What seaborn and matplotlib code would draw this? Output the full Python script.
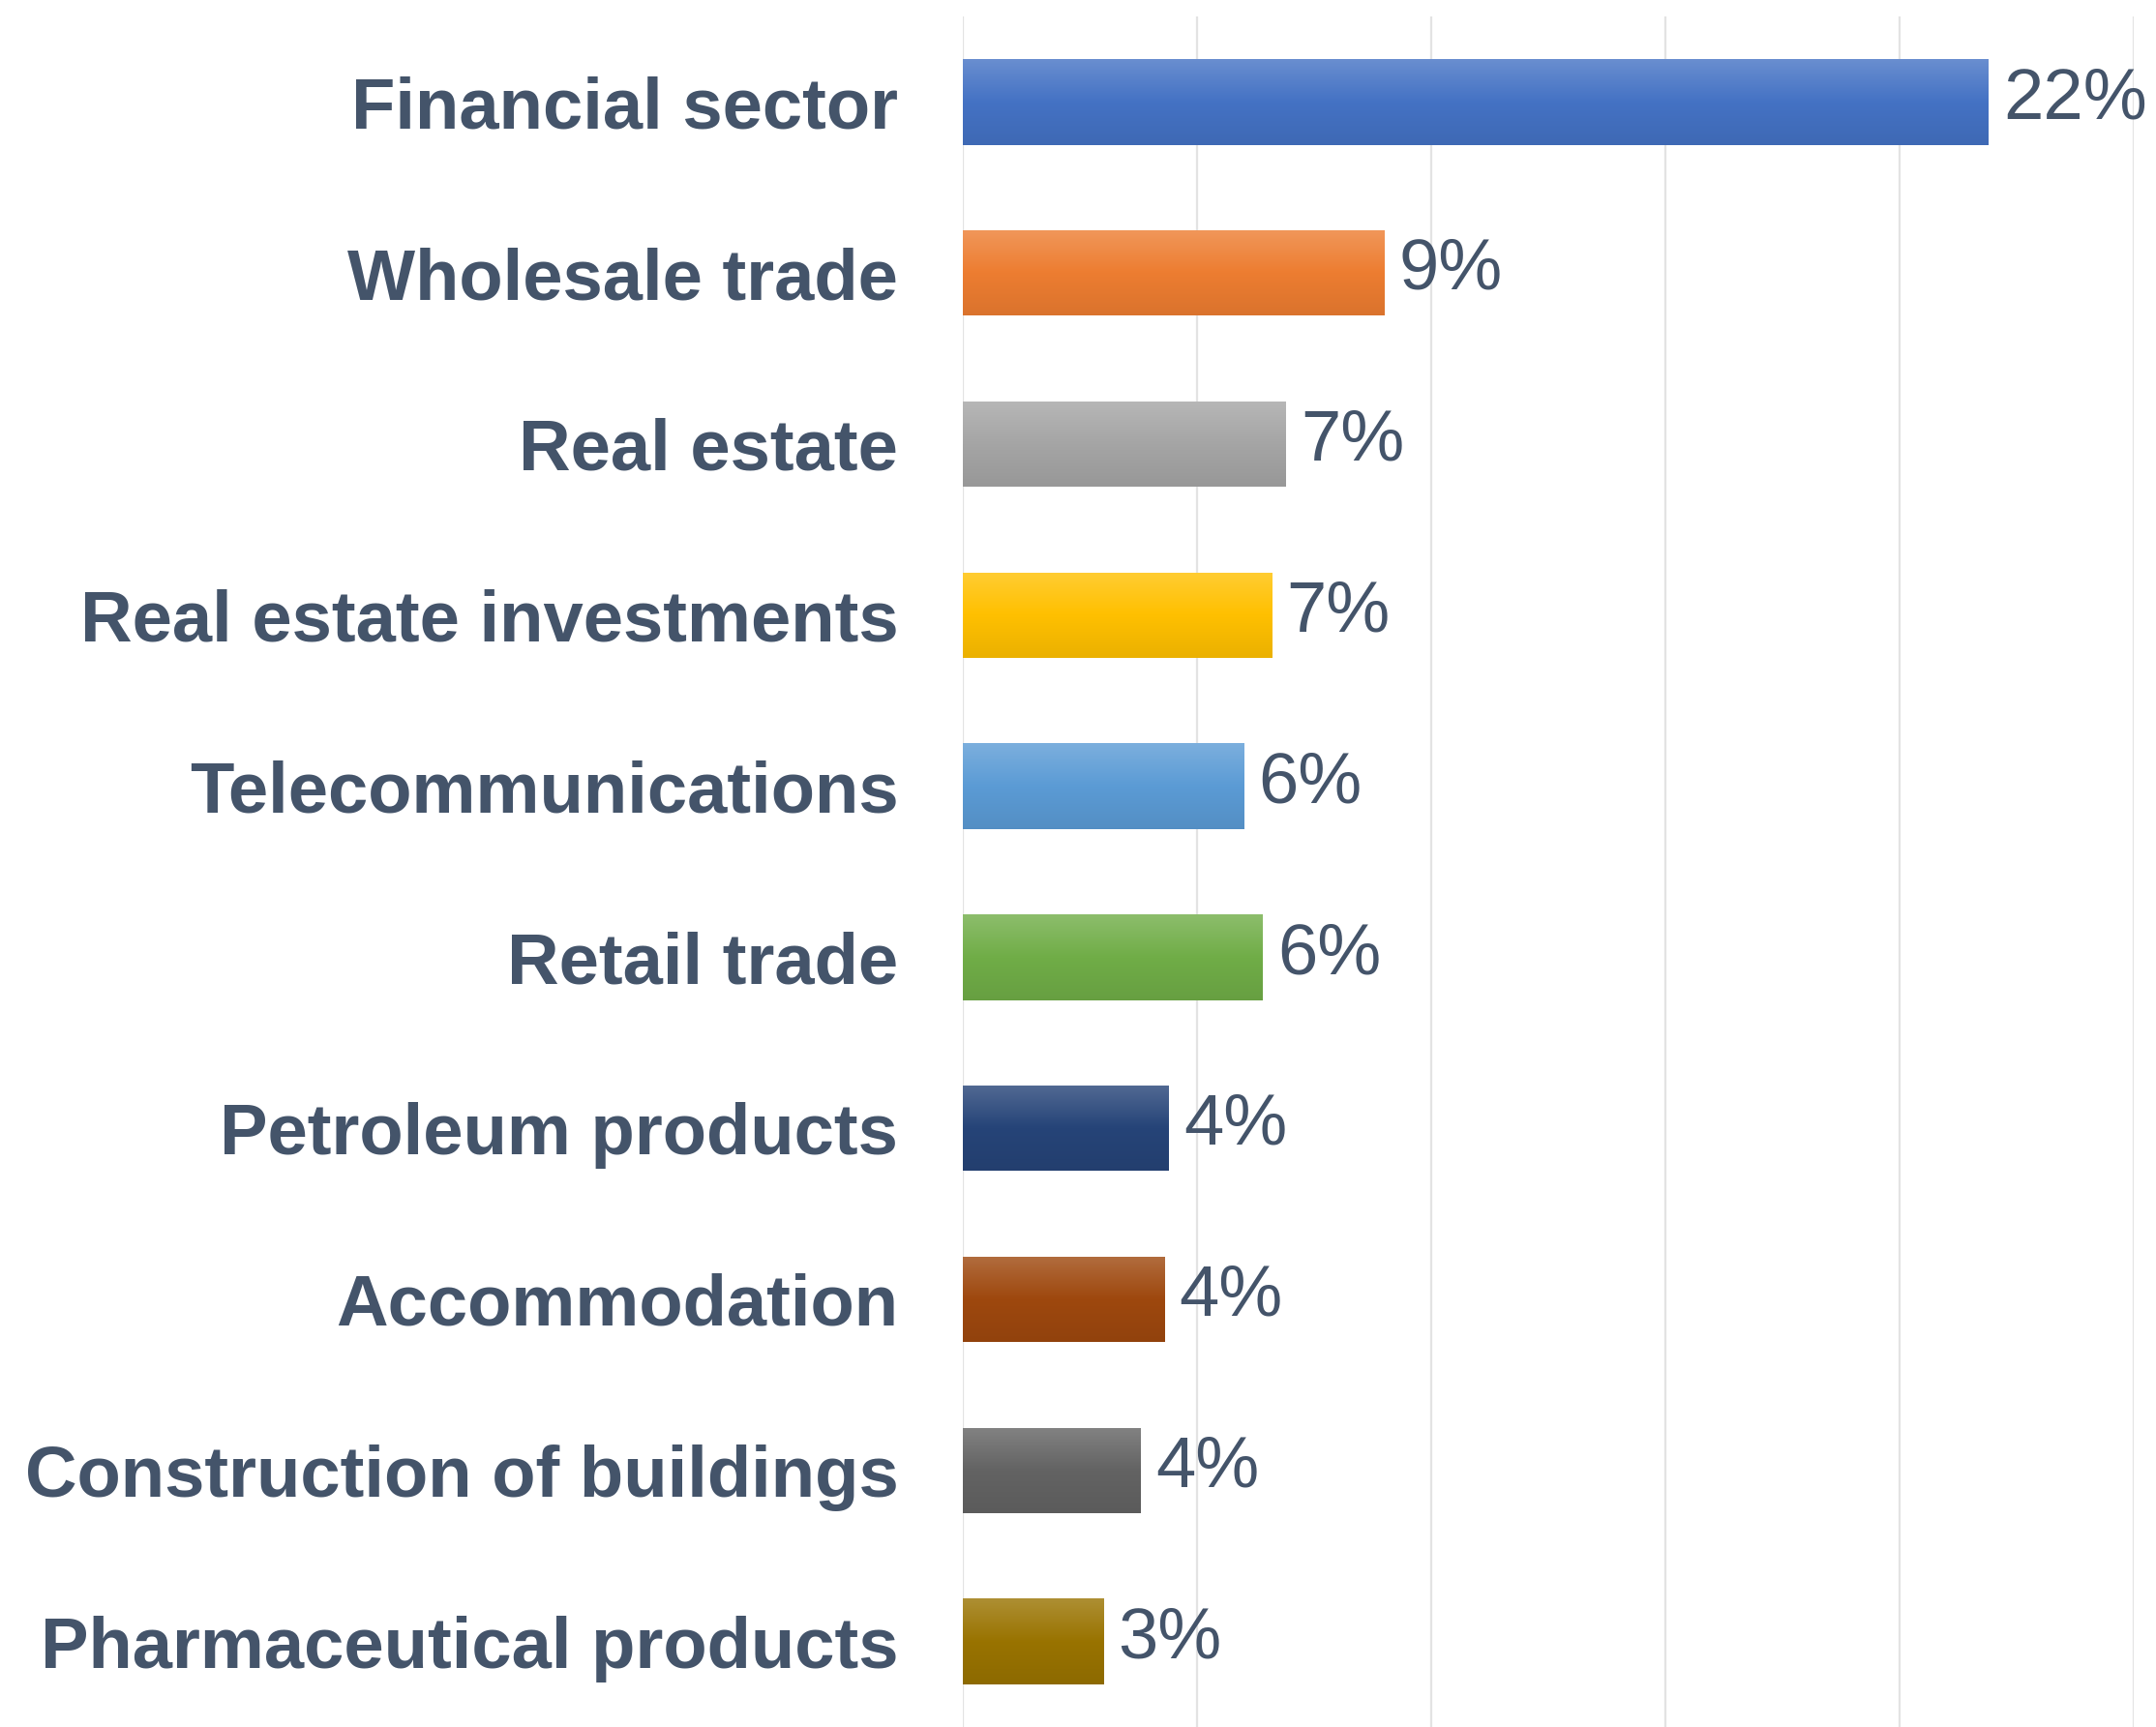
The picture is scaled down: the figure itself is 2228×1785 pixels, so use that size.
import numpy as np
import pandas as pd
import matplotlib.pyplot as plt
import matplotlib.colors as mcolors
import seaborn as sns

sectors = ['Financial sector', 'Wholesale trade', 'Real estate', 'Real estate investments',
           'Telecommunications', 'Retail trade', 'Petroleum products', 'Accommodation',
           'Construction of buildings', 'Pharmaceutical products']
shares = [21.9, 9.0, 6.9, 6.6, 6.0, 6.4, 4.4, 4.3, 3.8, 3.0]
labels = ['22%', '9%', '7%', '7%', '6%', '6%', '4%', '4%', '4%', '3%']
bar_colors = ['#4472C4', '#ED7D31', '#A5A5A5', '#FFC000', '#5B9BD5',
              '#70AD47', '#264478', '#9E480E', '#636363', '#997300']

text_color = '#44546A'

df = pd.DataFrame({'sector': sectors, 'share': shares})

sns.set_theme(style='white')
plt.rcParams['font.family'] = ['Liberation Sans', 'DejaVu Sans']

fig = plt.figure(figsize=(22.28, 17.85), dpi=100)
ax = fig.add_axes([0.4466, 0.0, 0.5431, 0.9905])

sns.barplot(data=df, x='share', y='sector', hue='sector', palette=bar_colors,
            width=0.5, legend=False, ax=ax, saturation=1)

def shade(c, f):
    r = np.array(mcolors.to_rgb(c))
    if f > 0:
        return tuple(r + (1 - r) * f)
    return tuple(r * (1 + f))

# gradient fill on each bar: lighter at the top, darker at the bottom
grad = np.linspace(0, 1, 256).reshape(-1, 1)
for patch, c in zip(ax.patches, bar_colors):
    x0, y0 = patch.get_x(), patch.get_y()
    w, h = patch.get_width(), patch.get_height()
    cmap = mcolors.LinearSegmentedColormap.from_list(
        'g', [shade(c, 0.2), c, shade(c, -0.08)])
    im = ax.imshow(grad, cmap=cmap, aspect='auto',
                   extent=[x0, x0 + w, y0 + h, y0], zorder=2, origin='upper')
    im.set_clip_path(patch)
    patch.set_edgecolor('none')

# value labels just right of the bars
for patch, lab in zip(ax.patches, labels):
    ax.annotate(lab, (patch.get_x() + patch.get_width(), patch.get_y() + patch.get_height() / 2),
                xytext=(11, 2), textcoords='offset points', va='center', ha='left',
                fontsize=53.5, color=text_color, annotation_clip=False, zorder=5)

ax.set_xlim(0, 25)
ax.set_ylim(9.5, -0.5)
ax.set_xticks(np.arange(0, 26, 5))
ax.set_xticklabels([])
ax.xaxis.grid(True, color='#E3E3E3', linewidth=1.6)
ax.set_axisbelow(True)
ax.set_xlabel('')
ax.set_ylabel('')
ax.tick_params(axis='y', length=0, pad=48, labelsize=53.5, labelcolor=text_color)
ax.tick_params(axis='x', length=0)
for t in ax.get_yticklabels():
    t.set_fontweight('bold')
    t.set_va('center_baseline')
for s in ax.spines.values():
    s.set_visible(False)

fig.savefig('out.png', dpi=100)
